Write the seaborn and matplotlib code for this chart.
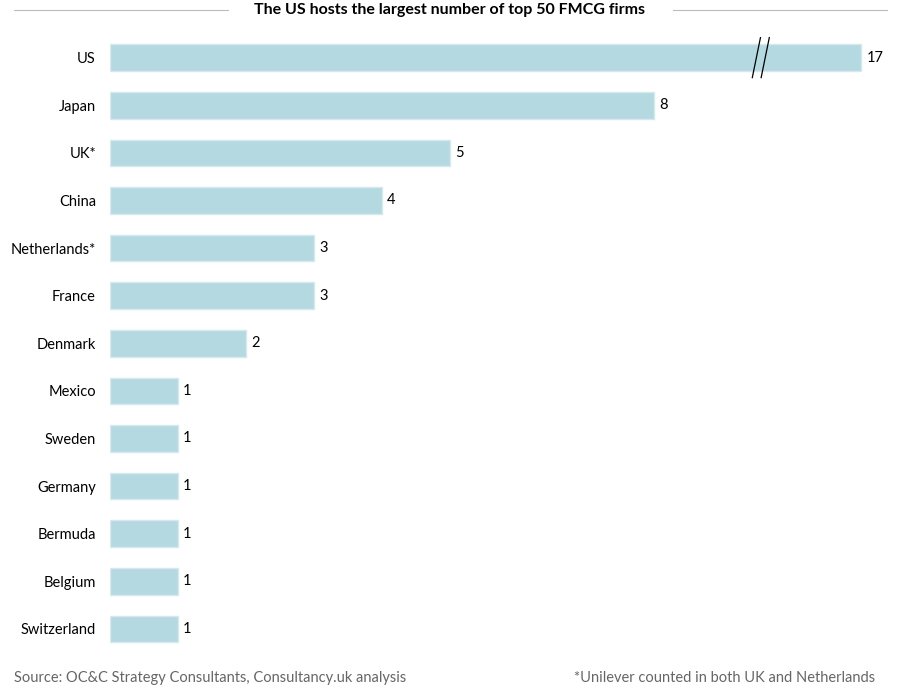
"""Top 50 FMCG firms by home country — horizontal bar chart with broken US bar."""

import matplotlib

matplotlib.use("Agg")
import matplotlib.pyplot as plt
import pandas as pd
import seaborn as sns

countries = ["US", "Japan", "UK*", "China", "Netherlands*", "France", "Denmark",
             "Mexico", "Sweden", "Germany", "Bermuda", "Belgium", "Switzerland"]
firms = [17, 8, 5, 4, 3, 3, 2, 1, 1, 1, 1, 1, 1]

# bars longer than this are drawn cut off with a break mark
BREAK_AT = 11.05
BREAK_MARK = 9.55

df = pd.DataFrame({"country": countries, "firms": firms})
df["shown"] = df["firms"].clip(upper=BREAK_AT)

plt.rcParams["font.family"] = "Lato"
fig = plt.figure(figsize=(9, 6.9), dpi=100)
ax = fig.add_axes([0.122, 0.054, 0.868, 0.897])

sns.barplot(data=df, x="shown", y="country", color="#b5d9e0", saturation=1,
            width=0.56, edgecolor="#d6e9ed", linewidth=1, ax=ax)
ax.set_xlim(0, 11.49)
ax.set_ylim(12.5, -0.5)
ax.set_xlabel("")
ax.set_ylabel("")
ax.set_xticks([])
ax.tick_params(axis="y", length=0, labelsize=10.5, pad=10)
for s in ax.spines.values():
    s.set_visible(False)

for i, (v, shown) in enumerate(zip(df["firms"], df["shown"])):
    ax.text(shown + 0.08, i, str(v), va="center", ha="left", fontsize=10.5)
    if v > BREAK_AT:
        ax.plot([BREAK_MARK - 0.1, BREAK_MARK + 0.02], [i + 0.42, i - 0.42],
                color="black", lw=0.9)
        ax.plot([BREAK_MARK + 0.03, BREAK_MARK + 0.15], [i + 0.42, i - 0.42],
                color="black", lw=0.9)

# title with rules on either side
fig.text(0.5, 0.985, "The US hosts the largest number of top 50 FMCG firms",
         ha="center", va="center", fontsize=11.5, fontweight="bold")
fig.add_artist(plt.Line2D([0.016, 0.253], [0.985, 0.985], color="#bbbbbb", lw=0.8))
fig.add_artist(plt.Line2D([0.748, 0.985], [0.985, 0.985], color="#bbbbbb", lw=0.8))

fig.text(0.016, 0.018, "Source: OC&C Strategy Consultants, Consultancy.uk analysis",
         ha="left", va="center", fontsize=10.5, color="#666666")
fig.text(0.972, 0.018, "*Unilever counted in both UK and Netherlands",
         ha="right", va="center", fontsize=10.5, color="#666666")

fig.savefig("out.png", dpi=100)
plt.close(fig)
